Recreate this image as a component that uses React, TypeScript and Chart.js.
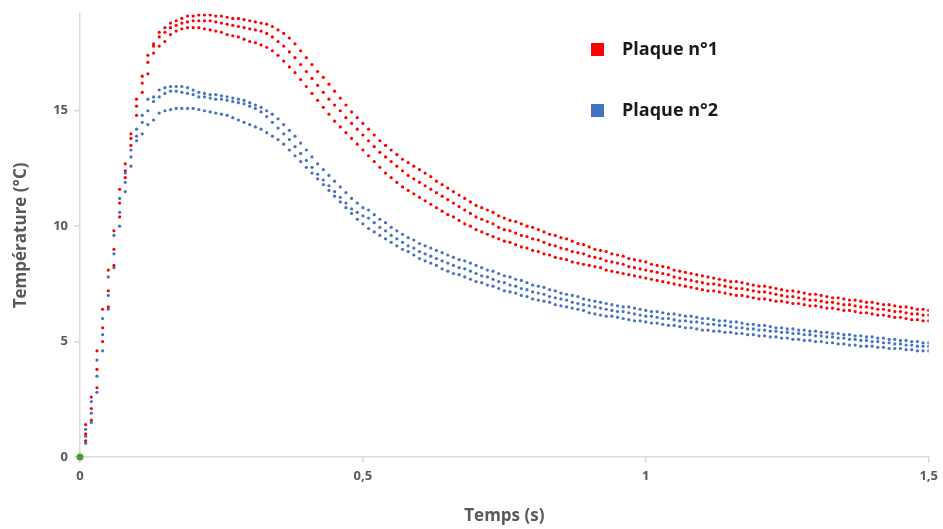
import React, { useEffect, useRef } from "react";
import { Chart, registerables } from "chart.js";

Chart.register(...registerables);

// Sampling times (s)
const TIMES = [
  0.01, 0.02, 0.03, 0.04, 0.05, 0.06, 0.07, 0.08, 0.09, 0.10,
  0.11, 0.12, 0.13, 0.14, 0.15, 0.16, 0.17, 0.18, 0.19, 0.20,
  0.21, 0.22, 0.23, 0.24, 0.25, 0.26, 0.27, 0.28, 0.29, 0.30,
  0.31, 0.32, 0.33, 0.34, 0.35, 0.36, 0.37, 0.38, 0.39, 0.40,
  0.41, 0.42, 0.43, 0.44, 0.45, 0.46, 0.47, 0.48, 0.49, 0.50,
  0.51, 0.52, 0.53, 0.54, 0.55, 0.56, 0.57, 0.58, 0.59, 0.60,
  0.61, 0.62, 0.63, 0.64, 0.65, 0.66, 0.67, 0.68, 0.69, 0.70,
  0.71, 0.72, 0.73, 0.74, 0.75, 0.76, 0.77, 0.78, 0.79, 0.80,
  0.81, 0.82, 0.83, 0.84, 0.85, 0.86, 0.87, 0.88, 0.89, 0.90,
  0.91, 0.92, 0.93, 0.94, 0.95, 0.96, 0.97, 0.98, 0.99, 1.00,
  1.01, 1.02, 1.03, 1.04, 1.05, 1.06, 1.07, 1.08, 1.09, 1.10,
  1.11, 1.12, 1.13, 1.14, 1.15, 1.16, 1.17, 1.18, 1.19, 1.20,
  1.21, 1.22, 1.23, 1.24, 1.25, 1.26, 1.27, 1.28, 1.29, 1.30,
  1.31, 1.32, 1.33, 1.34, 1.35, 1.36, 1.37, 1.38, 1.39, 1.40,
  1.41, 1.42, 1.43, 1.44, 1.45, 1.46, 1.47, 1.48, 1.49, 1.50,
];

// Plaque n°1 (three measurement runs)
const PLAQUE1_RUN_A = [
  1.4, 2.6, 4.6, 6.4, 8.1, 9.8, 11.6, 12.7, 14.0, 15.5,
  16.5, 17.4, 17.9, 18.4, 18.6, 18.8, 18.9, 19.0, 19.1, 19.1,
  19.15, 19.15, 19.15, 19.1, 19.1, 19.05, 19.0, 19.0, 18.95, 18.9,
  18.85, 18.8, 18.75, 18.65, 18.5, 18.35, 18.15, 17.9, 17.6, 17.3,
  17.0, 16.7, 16.45, 16.15, 15.85, 15.55, 15.25, 14.95, 14.7, 14.45,
  14.2, 13.95, 13.7, 13.5, 13.3, 13.1, 12.9, 12.75, 12.6, 12.45,
  12.3, 12.15, 11.95, 11.8, 11.65, 11.5, 11.35, 11.2, 11.05, 10.9,
  10.8, 10.7, 10.6, 10.45, 10.35, 10.25, 10.2, 10.1, 10.0, 9.95,
  9.85, 9.75, 9.65, 9.6, 9.5, 9.45, 9.35, 9.25, 9.2, 9.1,
  9.0, 8.95, 8.9, 8.8, 8.75, 8.7, 8.6, 8.55, 8.5, 8.45,
  8.35, 8.3, 8.25, 8.2, 8.1, 8.05, 8.0, 7.95, 7.9, 7.85,
  7.8, 7.75, 7.7, 7.65, 7.6, 7.6, 7.55, 7.5, 7.45, 7.4,
  7.4, 7.35, 7.3, 7.25, 7.2, 7.2, 7.15, 7.1, 7.05, 7.05,
  7.0, 6.95, 6.9, 6.9, 6.85, 6.8, 6.8, 6.75, 6.7, 6.7,
  6.65, 6.6, 6.6, 6.55, 6.5, 6.5, 6.45, 6.4, 6.4, 6.35,
];
const PLAQUE1_RUN_B = [
  1.0, 2.1, 3.8, 5.6, 7.2, 9.0, 11.0, 12.4, 13.8, 15.2,
  16.2, 17.1, 17.8, 18.2, 18.4, 18.6, 18.7, 18.8, 18.85, 18.9,
  18.9, 18.9, 18.9, 18.85, 18.8, 18.75, 18.7, 18.65, 18.6, 18.55,
  18.5, 18.45, 18.35, 18.2, 18.0, 17.8, 17.55, 17.3, 17.0, 16.7,
  16.4, 16.1, 15.8, 15.5, 15.25, 15.0, 14.7, 14.45, 14.2, 13.95,
  13.7, 13.45, 13.2, 13.0, 12.8, 12.6, 12.4, 12.2, 12.05, 11.9,
  11.75, 11.6, 11.45, 11.3, 11.15, 11.0, 10.85, 10.7, 10.55, 10.4,
  10.3, 10.2, 10.1, 9.95, 9.85, 9.8, 9.7, 9.6, 9.55, 9.45,
  9.4, 9.3, 9.2, 9.15, 9.05, 9.0, 8.9, 8.85, 8.8, 8.7,
  8.65, 8.6, 8.5, 8.45, 8.4, 8.35, 8.25, 8.2, 8.15, 8.1,
  8.05, 8.0, 7.95, 7.9, 7.8, 7.75, 7.7, 7.65, 7.6, 7.55,
  7.5, 7.5, 7.45, 7.4, 7.35, 7.3, 7.3, 7.25, 7.2, 7.15,
  7.15, 7.1, 7.05, 7.0, 6.95, 6.95, 6.9, 6.85, 6.8, 6.8,
  6.75, 6.7, 6.7, 6.65, 6.6, 6.6, 6.55, 6.5, 6.5, 6.45,
  6.4, 6.4, 6.35, 6.3, 6.3, 6.25, 6.2, 6.2, 6.15, 6.15,
];
const PLAQUE1_RUN_C = [
  0.7, 1.6, 3.0, 5.0, 6.5, 8.3, 10.4, 12.1, 13.5, 14.8,
  15.8, 16.6, 17.5, 17.8, 18.0, 18.3, 18.45, 18.55, 18.6, 18.6,
  18.6, 18.55, 18.5, 18.45, 18.4, 18.3, 18.25, 18.2, 18.1, 18.0,
  17.95, 17.85, 17.75, 17.6, 17.4, 17.15, 16.9, 16.65, 16.35, 16.05,
  15.75, 15.45, 15.15, 14.85, 14.55, 14.3, 14.05, 13.8, 13.55, 13.3,
  13.05, 12.8, 12.55, 12.3, 12.1, 11.9, 11.7, 11.55, 11.4, 11.25,
  11.1, 10.95, 10.8, 10.65, 10.5, 10.4, 10.25, 10.1, 10.0, 9.85,
  9.75, 9.65, 9.55, 9.45, 9.35, 9.3, 9.2, 9.1, 9.05, 8.95,
  8.9, 8.8, 8.75, 8.65, 8.6, 8.55, 8.45, 8.4, 8.35, 8.3,
  8.25, 8.2, 8.1, 8.05, 8.0, 7.95, 7.9, 7.85, 7.8, 7.75,
  7.7, 7.65, 7.6, 7.55, 7.5, 7.45, 7.4, 7.35, 7.3, 7.25,
  7.2, 7.2, 7.15, 7.1, 7.05, 7.0, 7.0, 6.95, 6.9, 6.85,
  6.85, 6.8, 6.75, 6.75, 6.7, 6.65, 6.65, 6.6, 6.55, 6.55,
  6.5, 6.45, 6.45, 6.4, 6.35, 6.35, 6.3, 6.25, 6.25, 6.2,
  6.15, 6.15, 6.1, 6.05, 6.05, 6.0, 5.95, 5.95, 5.9, 5.9,
];

// Plaque n°2 (three measurement runs)
const PLAQUE2_RUN_A = [
  1.2, 2.4, 4.2, 6.0, 7.8, 9.6, 11.2, 12.3, 13.3, 14.2,
  14.8, 15.5, 15.6, 15.9, 16.0, 16.05, 16.05, 16.05, 16.0, 15.9,
  15.8, 15.75, 15.7, 15.7, 15.65, 15.6, 15.55, 15.5, 15.45, 15.35,
  15.25, 15.15, 15.0, 14.85, 14.65, 14.4, 14.15, 13.9, 13.6, 13.3,
  13.0, 12.7, 12.45, 12.2, 11.95, 11.7, 11.45, 11.2, 11.0, 10.8,
  10.7, 10.5, 10.3, 10.15, 9.95, 9.8, 9.65, 9.5, 9.4, 9.25,
  9.15, 9.05, 8.95, 8.85, 8.75, 8.65, 8.55, 8.5, 8.4, 8.3,
  8.2, 8.1, 8.05, 7.95, 7.85, 7.8, 7.7, 7.65, 7.55, 7.45,
  7.4, 7.35, 7.25, 7.2, 7.1, 7.05, 7.0, 6.95, 6.85, 6.8,
  6.75, 6.7, 6.65, 6.6, 6.55, 6.5, 6.5, 6.45, 6.4, 6.35,
  6.3, 6.3, 6.25, 6.2, 6.2, 6.15, 6.1, 6.1, 6.05, 6.0,
  6.0, 5.95, 5.9, 5.9, 5.85, 5.85, 5.8, 5.75, 5.75, 5.7,
  5.7, 5.65, 5.6, 5.6, 5.55, 5.55, 5.5, 5.5, 5.45, 5.45,
  5.4, 5.4, 5.35, 5.35, 5.3, 5.3, 5.25, 5.25, 5.2, 5.2,
  5.15, 5.15, 5.1, 5.1, 5.05, 5.05, 5.0, 5.0, 4.95, 4.95,
];
const PLAQUE2_RUN_B = [
  0.9, 1.9, 3.5, 5.3, 7.0, 8.8, 10.6, 11.9, 13.0, 13.9,
  14.5, 15.0, 15.4, 15.6, 15.75, 15.85, 15.85, 15.8, 15.75, 15.7,
  15.6, 15.6, 15.55, 15.5, 15.5, 15.45, 15.4, 15.35, 15.3, 15.2,
  15.1, 14.95, 14.75, 14.5, 14.25, 14.0, 13.75, 13.45, 13.15, 12.85,
  12.55, 12.25, 12.0, 11.75, 11.5, 11.25, 11.0, 10.75, 10.6, 10.45,
  10.35, 10.15, 9.95, 9.8, 9.6, 9.45, 9.3, 9.15, 9.05, 8.9,
  8.8, 8.7, 8.6, 8.5, 8.4, 8.3, 8.2, 8.15, 8.05, 7.95,
  7.85, 7.8, 7.7, 7.6, 7.55, 7.45, 7.4, 7.3, 7.25, 7.15,
  7.1, 7.05, 6.95, 6.9, 6.85, 6.8, 6.7, 6.65, 6.6, 6.55,
  6.5, 6.45, 6.4, 6.35, 6.3, 6.3, 6.25, 6.2, 6.15, 6.1,
  6.1, 6.05, 6.0, 6.0, 5.95, 5.9, 5.9, 5.85, 5.85, 5.8,
  5.75, 5.75, 5.7, 5.7, 5.65, 5.6, 5.6, 5.55, 5.55, 5.5,
  5.5, 5.45, 5.45, 5.4, 5.4, 5.35, 5.35, 5.3, 5.3, 5.25,
  5.25, 5.2, 5.2, 5.15, 5.15, 5.1, 5.1, 5.05, 5.05, 5.0,
  5.0, 4.95, 4.95, 4.9, 4.9, 4.85, 4.85, 4.8, 4.8, 4.8,
];
const PLAQUE2_RUN_C = [
  0.6, 1.5, 2.8, 4.6, 6.4, 8.2, 10.0, 11.5, 12.6, 13.7,
  14.0, 14.4, 14.6, 14.9, 15.0, 15.05, 15.1, 15.1, 15.1, 15.1,
  15.05, 15.0, 14.95, 14.9, 14.85, 14.8, 14.7, 14.6, 14.5, 14.4,
  14.3, 14.2, 14.05, 13.9, 13.75, 13.55, 13.3, 13.05, 12.8, 12.55,
  12.3, 12.05, 11.8, 11.55, 11.3, 11.05, 10.8, 10.55, 10.3, 10.1,
  9.9, 9.75, 9.6, 9.45, 9.3, 9.15, 9.0, 8.9, 8.75, 8.6,
  8.5, 8.4, 8.3, 8.15, 8.05, 7.95, 7.9, 7.8, 7.7, 7.6,
  7.55, 7.45, 7.4, 7.3, 7.2, 7.15, 7.1, 7.0, 6.95, 6.85,
  6.8, 6.75, 6.7, 6.6, 6.55, 6.5, 6.45, 6.4, 6.35, 6.25,
  6.2, 6.15, 6.1, 6.1, 6.05, 6.0, 5.95, 5.9, 5.9, 5.85,
  5.8, 5.8, 5.75, 5.7, 5.7, 5.65, 5.6, 5.6, 5.55, 5.5,
  5.5, 5.45, 5.45, 5.4, 5.4, 5.35, 5.35, 5.3, 5.3, 5.25,
  5.25, 5.2, 5.2, 5.15, 5.15, 5.1, 5.1, 5.05, 5.05, 5.0,
  5.0, 4.95, 4.95, 4.9, 4.9, 4.85, 4.85, 4.8, 4.8, 4.8,
  4.75, 4.75, 4.7, 4.7, 4.7, 4.65, 4.65, 4.6, 4.6, 4.6,
];

const ORIGIN_X = [0];
const ORIGIN_Y = [0];

const SERIES_NAMES = ["Plaque n°1", "Plaque n°2"];
const X_TICKS = [0, 0.5, 1, 1.5];
const Y_TICKS = [0, 5, 10, 15];
const X_TITLE = "Temps (s)";
const Y_TITLE = "Température (°C)";

const RED = "#ff0000";
const BLUE = "#4472c4";
const GREEN = "#4e9a32";
const AXIS_GREY = "#d9d9d9";
const TEXT_GREY = "#595959";
const FONT = "'Open Sans'";

export default function App() {
  const ref = useRef<HTMLCanvasElement>(null);

  useEffect(() => {
    if (!ref.current) return;
    const toPts = (ys: number[]) => TIMES.map((t, i) => ({ x: t, y: ys[i] }));

    const legendPlugin = {
      id: "customLegend",
      afterDraw(chart: any) {
        const ctx = chart.ctx;
        ctx.save();
        const items = [
          { label: SERIES_NAMES[0], color: RED, y: 50 },
          { label: SERIES_NAMES[1], color: BLUE, y: 111 },
        ];
        ctx.font = `bold 18px ${FONT}`;
        ctx.textBaseline = "middle";
        ctx.textAlign = "left";
        for (const it of items) {
          ctx.fillStyle = it.color;
          ctx.fillRect(591, it.y - 7, 13, 13);
          ctx.fillStyle = "#1a1a1a";
          ctx.fillText(it.label, 622, it.y);
        }
        ctx.restore();
      },
    };

    const pointDs = (label: string, ys: number[], color: string) => ({
      label,
      data: toPts(ys),
      backgroundColor: color,
      borderColor: color,
      pointRadius: 1.6,
      pointBorderWidth: 0,
      pointHoverRadius: 1.6,
      showLine: false,
    });

    const tickFont = { family: FONT, size: 13, weight: "bold" as const };
    const titleFont = { family: FONT, size: 17, weight: "bold" as const };

    const chart = new Chart(ref.current, {
      type: "scatter",
      data: {
        datasets: [
          pointDs(SERIES_NAMES[0], PLAQUE1_RUN_A, RED),
          pointDs(SERIES_NAMES[0], PLAQUE1_RUN_B, RED),
          pointDs(SERIES_NAMES[0], PLAQUE1_RUN_C, RED),
          pointDs(SERIES_NAMES[1], PLAQUE2_RUN_A, BLUE),
          pointDs(SERIES_NAMES[1], PLAQUE2_RUN_B, BLUE),
          pointDs(SERIES_NAMES[1], PLAQUE2_RUN_C, BLUE),
          {
            label: "origin",
            data: ORIGIN_X.map((x, i) => ({ x, y: ORIGIN_Y[i] })),
            backgroundColor: GREEN,
            borderColor: GREEN,
            pointRadius: 3.5,
            pointBorderWidth: 0,
            clip: false,
          } as any,
        ],
      },
      options: {
        animation: false,
        responsive: false,
        maintainAspectRatio: false,
        layout: { padding: { left: 0, top: 10, right: 8, bottom: 0 } },
        plugins: {
          legend: { display: false },
          tooltip: { enabled: false },
        },
        scales: {
          x: {
            type: "linear",
            min: 0,
            max: 1.5,
            afterBuildTicks: (s: any) => {
              s.ticks = X_TICKS.map((v) => ({ value: v }));
            },
            afterFit: (s: any) => {
              s.height = 72;
            },
            ticks: {
              color: TEXT_GREY,
              font: tickFont,
              padding: 5,
              maxRotation: 0,
              autoSkip: false,
              callback: (v: any) => String(v).replace(".", ","),
            },
            grid: {
              drawOnChartArea: false,
              drawTicks: true,
              tickLength: 6,
              color: AXIS_GREY,
              lineWidth: 1.5,
            },
            border: { color: AXIS_GREY, width: 1.5 },
            title: {
              display: true,
              text: X_TITLE,
              color: TEXT_GREY,
              font: titleFont,
              padding: { top: 0, bottom: 3 },
            },
          },
          y: {
            type: "linear",
            min: 0,
            max: 19.2,
            afterBuildTicks: (s: any) => {
              s.ticks = Y_TICKS.map((v) => ({ value: v }));
            },
            afterFit: (s: any) => {
              s.width = 80;
            },
            ticks: {
              color: TEXT_GREY,
              font: tickFont,
              padding: 6,
              autoSkip: false,
              callback: (v: any) => String(v).replace(".", ","),
            },
            grid: {
              drawOnChartArea: false,
              drawTicks: true,
              tickLength: 6,
              color: AXIS_GREY,
              lineWidth: 1.5,
            },
            border: { color: AXIS_GREY, width: 1.5 },
            title: {
              display: true,
              text: Y_TITLE,
              color: TEXT_GREY,
              font: titleFont,
              padding: { top: 11, bottom: 0 },
            },
          },
        },
      },
      plugins: [legendPlugin],
    } as any);

    return () => chart.destroy();
  }, []);

  return (
    <div
      style={{
        position: "absolute",
        left: 0,
        top: 0,
        width: 943,
        height: 529,
        background: "#ffffff",
      }}
    >
      <canvas ref={ref} width={943} height={529} style={{ display: "block" }} />
    </div>
  );
}
